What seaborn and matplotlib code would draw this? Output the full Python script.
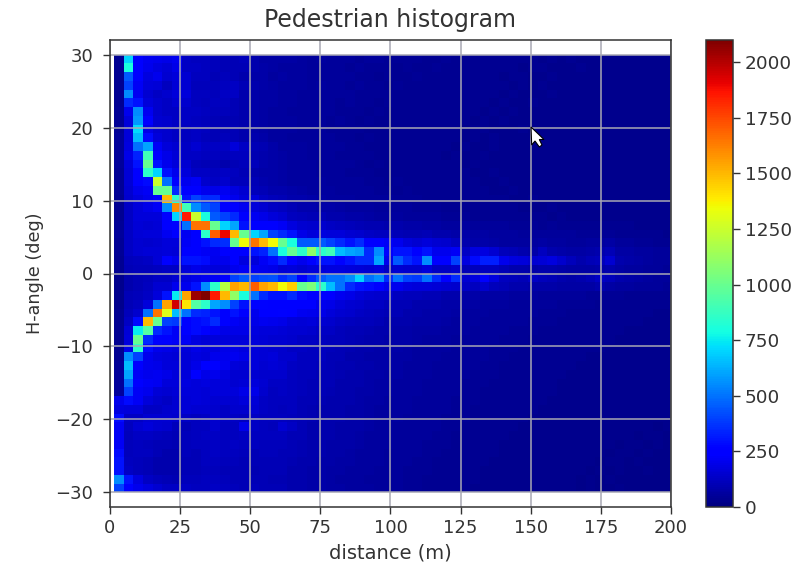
#!/usr/bin/env python3

import matplotlib
matplotlib.use('Agg')
import matplotlib.pyplot as plt
from matplotlib.patches import Polygon
import seaborn as sns
import pandas as pd
import numpy as np

# counts per cell, top row is +30 deg, left column is the nearest range bin
rows = [
    [40,700,230,210,200,190,210,130,120,120, 110,100,100,110,90,70,70,70,70,60, 55,60,55,50,50,45,50,50,45,45, 45,45,40,40,45,40,40,40,35,40, 35,35,40,35,30,35,30,35,30,30, 30,30,30,30,30,30,25,30],
    [40,800,260,200,180,160,190,130,130,120, 110,105,105,100,85,75,70,65,65,60, 55,55,55,50,45,50,45,45,45,40, 45,40,40,45,40,40,35,40,35,35, 35,35,30,35,35,30,30,30,35,30, 30,30,25,30,30,25,30,25],
    [40,450,230,180,200,150,170,150,120,120, 105,110,100,90,80,75,65,70,60,65, 55,50,55,50,50,45,45,40,45,40, 40,45,40,40,40,35,40,35,35,35, 30,35,35,30,30,35,30,30,30,30, 30,30,30,25,30,30,25,30],
    [40,400,220,170,160,120,160,150,110,110, 110,120,130,100,85,75,70,65,65,60, 55,60,50,55,45,50,45,45,40,45, 40,40,40,35,40,40,35,35,40,35, 35,30,35,30,35,30,30,30,30,30, 30,25,30,30,25,30,30,25],
    [40,550,210,150,130,140,170,170,120,115, 110,125,125,90,80,70,70,65,60,55, 55,50,50,55,50,45,45,45,45,40, 40,40,35,40,35,35,40,35,35,35, 30,35,30,30,30,35,30,30,30,25, 30,30,25,30,25,30,25,30],
    [40,350,300,170,140,130,150,140,120,110, 120,115,100,90,75,70,70,60,60,55, 50,50,55,45,50,45,45,40,45,40, 40,35,40,40,35,35,35,35,35,30, 35,30,30,35,30,30,30,30,25,30, 30,25,30,25,30,25,30,25],
    [45,200,550,210,140,130,130,130,130,115, 110,110,100,85,80,70,65,65,55,55, 50,55,50,45,45,45,40,45,40,40, 40,40,35,40,35,35,35,35,30,35, 30,35,30,30,30,30,30,25,30,30, 25,30,25,30,25,25,30,25],
    [45,170,580,250,150,140,130,130,120,110, 105,95,95,85,75,70,65,60,60,55, 50,50,45,50,45,40,45,40,40,40, 35,40,35,35,40,35,35,30,35,30, 35,30,30,30,30,30,25,30,30,25, 30,25,30,25,25,30,25,25],
    [45,170,720,190,150,140,130,120,130,115, 105,105,100,90,80,70,65,60,60,50, 55,50,45,45,45,45,40,40,40,35, 40,35,40,35,35,35,30,35,35,30, 30,30,35,30,30,25,30,30,25,30, 25,30,25,30,25,25,25,25],
    [50,170,650,280,170,140,130,120,130,110, 105,110,100,90,90,75,65,65,55,55, 50,50,50,45,45,40,45,40,40,40, 35,40,35,35,35,35,30,35,30,35, 30,30,30,30,30,30,25,30,25,30, 25,25,30,25,25,25,25,25],
    [50,180,500,600,220,170,150,130,150,125, 130,125,170,130,100,95,80,65,60,60, 55,50,50,50,45,45,40,40,40,40, 40,35,35,35,35,30,35,30,30,35, 30,30,30,30,25,30,30,25,30,25, 25,25,25,25,30,25,25,25],
    [50,190,330,900,230,190,160,130,130,120, 120,110,120,120,95,90,75,70,60,60, 55,55,50,45,45,45,45,40,40,35, 40,35,35,40,30,35,30,30,35,30, 30,30,25,30,30,25,30,25,25,30, 25,25,25,30,25,25,25,25],
    [50,170,300,1000,300,200,170,150,110,100, 100,90,100,110,110,85,75,70,65,65, 60,55,50,50,50,45,40,45,40,40, 35,40,35,35,35,35,30,35,30,30, 30,30,30,25,30,30,25,30,25,25, 30,25,25,25,25,30,25,25],
    [45,160,250,850,700,300,200,170,130,130, 120,125,120,105,90,80,75,70,65,60, 60,55,55,50,45,45,45,40,40,40, 40,35,40,35,35,35,35,30,30,35, 30,30,30,30,30,25,30,25,30,25, 25,30,25,25,25,25,25,25],
    [45,160,230,280,1250,500,250,200,220,140, 130,140,110,110,100,90,80,70,65,65, 60,60,55,55,50,50,45,45,40,45, 40,40,35,40,35,35,35,35,30,30, 35,30,30,30,30,30,25,30,30,25, 25,25,30,25,25,25,25,25],
    [45,150,200,220,1000,1000,350,230,250,200, 190,210,180,150,110,105,90,85,75,70, 65,60,60,55,55,50,50,45,45,40, 45,40,40,40,35,35,35,35,35,30, 30,35,30,30,30,30,30,25,30,30, 25,30,25,25,25,25,25,25],
    [40,140,180,200,250,1500,850,300,400,350, 350,230,200,170,170,130,110,100,90,85, 75,70,65,60,60,55,55,50,50,45, 45,45,40,40,40,40,35,35,35,35, 35,30,30,35,30,30,30,30,30,25, 30,30,25,30,25,25,25,25],
    [40,130,170,190,220,550,1600,900,550,450, 400,270,230,210,170,150,130,120,100,90, 85,80,75,70,65,60,60,55,50,50, 50,45,45,45,40,40,40,35,35,35, 35,35,30,30,30,35,30,30,30,30, 30,30,30,25,30,25,25,25],
    [40,130,170,170,170,240,700,1850,1250,800, 450,400,350,230,210,190,170,150,120,110, 100,100,90,85,80,75,70,65,60,60, 55,55,50,50,45,45,45,40,40,40, 40,35,35,35,35,30,35,30,30,30, 30,30,30,30,30,25,30,25],
    [45,130,160,150,160,230,270,500,1650,1650, 1000,700,600,300,260,250,230,220,180,150, 140,140,130,120,110,100,95,95,90,85, 80,75,70,70,65,60,60,55,55,50, 50,45,45,45,40,45,40,40,40,35, 35,35,35,35,30,30,30,30],
    [50,130,160,170,170,210,240,210,230,850, 1700,1900,1500,1000,700,600,400,350,300,190, 170,175,170,170,155,145,130,120,120,105, 95,95,100,90,90,80,75,70,70,65, 60,60,55,50,50,55,50,50,45,45, 45,45,40,40,35,35,35,30],
    [45,130,150,140,150,170,170,220,250,300, 350,360,1000,1350,1650,1500,1350,1000,800,450, 450,450,400,350,300,350,250,230,220,200, 170,150,170,150,140,120,90,80,80,70, 65,65,60,60,70,65,60,55,55,60, 65,70,55,50,45,45,40,40],
    [45,130,150,160,160,170,160,240,240,220, 210,230,240,250,300,330,500,800,1000,850, 1100,850,900,650,600,580,350,550,250,300, 300,250,300,200,200,220,130,180,180,150, 110,100,90,80,120,90,80,70,70,80, 90,100,70,70,60,60,55,50],
    [40,110,120,130,160,240,200,300,300,280, 200,200,240,180,170,220,280,350,250,200, 250,300,300,270,300,350,350,600,200,450, 350,300,550,250,250,400,180,280,320,320, 200,180,170,150,160,180,140,110,90,100, 110,150,90,80,70,60,55,50],
    [35,100,110,110,120,130,130,170,190,180, 170,170,200,220,210,200,190,160,170,150, 170,170,180,180,170,160,150,170,130,150, 140,140,170,130,130,140,100,110,120,120, 100,90,90,80,90,90,80,70,70,70, 80,90,70,60,60,55,50,45],
    [30,90,100,110,130,130,150,180,190,210, 220,260,400,450,400,420,430,350,400,250, 350,450,500,500,550,700,500,550,350,500, 400,380,500,350,250,350,150,180,230,180, 120,110,100,130,110,100,90,80,90,100, 130,110,90,80,70,60,55,50],
    [30,90,100,120,150,150,200,200,300,550, 850,1200,1550,1500,1700,1550,1500,1350,1450,1000, 1050,850,650,500,350,300,280,250,200,200, 180,170,170,160,150,140,130,120,140,110, 100,90,90,80,80,80,70,70,70,70, 85,70,60,60,55,50,50,45],
    [30,100,110,130,170,300,750,1550,2050,2100, 1850,1500,1100,800,500,350,300,300,350,280, 250,270,230,210,190,170,150,140,140,120, 110,110,100,100,90,90,80,80,70,70, 70,65,60,60,55,55,50,50,50,45, 45,45,45,40,40,40,40,35],
    [30,100,120,170,500,1550,1950,1400,950,850, 600,550,400,300,250,270,250,240,230,240, 230,200,190,170,150,140,130,130,110,100, 100,90,90,85,80,75,70,70,65,60, 60,55,55,50,50,50,45,45,45,45, 40,40,40,40,35,35,35,35],
    [35,110,140,500,1650,1300,650,500,350,330, 300,250,300,230,200,240,260,270,240,210, 200,190,170,150,140,130,120,110,105,100, 90,90,80,80,75,70,65,60,60,55, 55,55,50,50,45,45,45,40,40,40, 40,40,35,35,35,35,30,30],
    [35,130,280,1500,1000,400,380,250,280,300, 350,230,220,200,190,210,200,190,170,160, 170,150,140,130,120,110,110,100,90,90, 85,80,75,75,70,65,60,60,55,55, 50,50,50,45,45,45,40,40,40,40, 35,35,35,35,35,30,30,30],
    [35,160,750,950,350,300,220,230,280,250, 220,190,190,190,180,170,170,160,150,150, 140,130,125,110,105,100,95,90,85,80, 75,70,70,70,65,60,60,55,55,50, 50,45,45,45,40,40,40,40,35,35, 35,35,35,30,30,30,30,30],
    [35,170,1000,350,270,250,220,220,180,160, 170,170,170,170,170,160,150,150,140,130, 130,120,110,110,100,95,90,85,80,80, 75,70,65,65,60,55,55,55,50,50, 45,45,45,40,40,40,40,35,35,35, 35,35,30,30,30,30,30,30],
    [40,190,850,280,200,190,180,170,190,180, 180,190,190,180,170,160,150,140,130,125, 120,115,110,100,95,90,85,80,80,75, 70,65,65,60,60,55,55,50,50,45, 45,45,40,40,40,40,35,35,35,35, 35,30,30,30,30,30,30,25],
    [40,550,400,200,180,170,160,160,180,170, 200,200,210,190,170,160,170,140,140,120, 115,120,105,100,90,90,80,80,75,70, 70,65,60,60,55,55,50,50,50,45, 45,40,40,40,40,35,35,35,35,30, 30,30,30,30,30,25,30,25],
    [45,650,250,200,190,170,170,160,190,230, 230,210,170,160,170,150,160,150,130,120, 120,110,105,95,95,85,85,75,75,70, 65,65,60,55,55,50,50,50,45,45, 40,40,40,40,35,35,35,35,30,30, 30,30,30,30,25,30,25,25],
    [50,600,220,200,210,190,170,170,230,190, 200,180,150,150,150,140,140,140,120,110, 110,105,100,95,90,85,80,75,70,70, 65,60,60,55,50,50,50,45,45,45, 40,40,40,35,35,35,35,30,30,30, 30,30,30,25,30,25,25,25],
    [50,500,230,220,210,170,170,180,170,180, 170,170,150,160,170,150,130,130,115,110, 105,105,100,90,85,85,80,70,70,65, 65,60,55,55,50,50,45,45,45,40, 40,40,35,35,35,35,30,30,30,30, 30,30,25,30,25,25,25,25],
    [55,400,220,200,160,150,160,170,170,160, 170,170,170,190,190,140,120,125,120,110, 100,100,95,90,85,80,75,70,70,65, 60,60,55,50,50,50,45,45,40,40, 40,35,35,35,35,35,30,30,30,30, 25,30,30,25,25,25,25,25],
    [200,280,220,170,140,130,150,160,170,160, 150,150,150,170,160,130,115,120,120,105, 100,95,90,85,85,80,70,70,65,65, 60,55,55,50,50,45,45,45,40,40, 35,35,35,35,35,30,30,30,30,30, 25,30,25,25,25,25,25,25],
    [180,170,170,130,130,140,150,160,150,150, 140,130,140,140,150,125,115,110,115,100, 95,90,90,85,80,75,70,65,65,60, 60,55,50,50,50,45,45,40,40,40, 35,35,35,35,30,30,30,30,30,25, 30,25,25,25,25,25,25,25],
    [280,130,130,150,150,150,140,130,120,130, 140,130,130,120,130,115,115,120,110,105, 95,90,85,85,80,75,70,65,60,60, 55,55,50,50,45,45,45,40,40,35, 35,35,35,30,30,30,30,30,25,30, 25,25,25,25,25,25,25,25],
    [220,120,150,170,150,140,110,105,120,120, 140,120,120,190,130,120,110,150,130,105, 90,90,85,80,75,75,70,65,60,55, 55,50,50,50,45,45,40,40,40,35, 35,35,30,30,30,30,30,30,25,25, 25,25,25,25,25,25,20,25],
    [220,110,130,130,120,110,100,110,120,130, 130,120,120,130,120,115,120,120,105,100, 90,85,85,80,75,70,65,65,60,55, 55,50,50,45,45,40,40,40,35,35, 35,30,30,30,30,30,30,25,25,25, 25,25,25,25,20,25,25,20],
    [220,110,120,110,100,100,95,110,120,120, 125,120,125,120,120,110,110,110,105,95, 90,85,80,75,75,70,65,60,60,55, 50,50,45,45,45,40,40,35,35,35, 30,30,30,30,30,30,25,25,25,25, 25,25,20,25,25,20,25,20],
    [280,110,115,115,100,90,90,110,105,115, 125,115,115,110,105,110,110,105,100,95, 85,85,80,75,70,65,65,60,55,55, 50,50,45,45,40,40,35,35,35,35, 30,30,30,30,30,25,25,25,25,25, 25,20,25,25,20,25,20,20],
    [300,120,110,105,90,85,90,105,105,115, 120,110,110,105,100,105,105,100,95,90, 85,80,75,70,70,65,60,60,55,50, 50,45,45,40,40,40,35,35,35,30, 30,30,30,25,30,25,25,25,25,25, 20,25,25,20,25,20,20,20],
    [300,130,110,100,85,85,90,100,100,110, 110,105,105,100,95,100,100,100,90,85, 80,80,70,70,65,60,60,55,55,50, 45,45,45,40,40,35,35,35,30,30, 30,30,30,25,25,25,25,25,25,20, 25,20,25,20,20,25,20,20],
    [550,300,180,130,110,100,95,110,110,120, 120,110,105,100,100,100,95,95,90,85, 75,75,70,65,65,60,55,55,50,50, 45,45,40,40,35,35,35,35,30,30, 30,25,30,25,25,25,25,25,20,25, 20,25,20,20,20,20,20,20],
    [400,240,200,180,150,130,130,130,120,120, 125,115,110,105,110,105,100,100,90,85, 80,75,70,70,65,60,60,55,50,50, 45,45,40,40,40,35,35,30,30,30, 30,30,25,25,25,25,25,25,20,25, 20,20,25,20,20,20,20,20],
]

dist_ticks = [0, 25, 50, 75, 100, 125, 150, 175, 200]
angle_ticks = [30, 20, 10, 0, -10, -20, -30]
count_ticks = [0, 250, 500, 750, 1000, 1250, 1500, 1750, 2000]

# bin layout
dist_start = 1.5
dist_step = 3.43
angle_top = 30
angle_step = 1.2

W, H = 803, 563


def dist_pos(d):
    return (d - dist_start) / dist_step


def angle_pos(a):
    return (angle_top - a) / angle_step


if __name__ == '__main__':
    fig = plt.figure(figsize=(W / 100, H / 100), dpi=100)
    ax = fig.add_axes([110 / W, (H - 507) / H, 561 / W, 467 / H])
    cax = fig.add_axes([706 / W, (H - 507) / H, 27 / W, 467 / H])

    text_col = '#333333'
    counts = pd.DataFrame(rows)
    sns.heatmap(counts, cmap='jet', vmin=0, vmax=2100, ax=ax, cbar_ax=cax,
                xticklabels=False, yticklabels=False)

    ax.set_xlim(dist_pos(0), dist_pos(200))
    ax.set_ylim(angle_pos(-32), angle_pos(32))
    ax.set_xticks([dist_pos(d) for d in dist_ticks])
    ax.set_xticklabels([str(d) for d in dist_ticks], rotation=0)
    ax.set_yticks([angle_pos(a) for a in angle_ticks])
    ax.set_yticklabels([str(a).replace('-', '\u2212') for a in angle_ticks], rotation=0)
    ax.tick_params(length=5, width=1, labelsize=13, colors=text_col)
    ax.tick_params(axis='y', pad=7)
    ax.grid(True, color='#a8a8b4', linewidth=1.1)
    for s in ax.spines.values():
        s.set_visible(True)
        s.set_linewidth(1.1)
        s.set_color(text_col)

    ax.set_xlabel('distance (m)', fontsize=14, color=text_col, labelpad=5)
    ax.set_ylabel('H-angle (deg)', fontsize=12.7, color=text_col, labelpad=8)
    ax.set_title('Pedestrian histogram', fontsize=17, color=text_col, pad=9)

    cb = ax.collections[0].colorbar
    cb.set_ticks(count_ticks)
    cb.ax.tick_params(length=5, width=1, labelsize=13.3, colors=text_col)
    cb.outline.set_visible(True)
    cb.outline.set_linewidth(1.1)
    cb.outline.set_edgecolor(text_col)

    # mouse pointer caught in the screenshot
    pointer = [(531, 127), (531.7, 145), (535, 141), (539.3, 147), (542, 145), (539.3, 139.5), (544, 139.5)]
    fig.add_artist(Polygon([(x / W, 1 - y / H) for x, y in pointer], closed=True,
                           transform=fig.transFigure, facecolor='white',
                           edgecolor='black', linewidth=0.8, zorder=10))

    fig.savefig('out.png', dpi=100)
